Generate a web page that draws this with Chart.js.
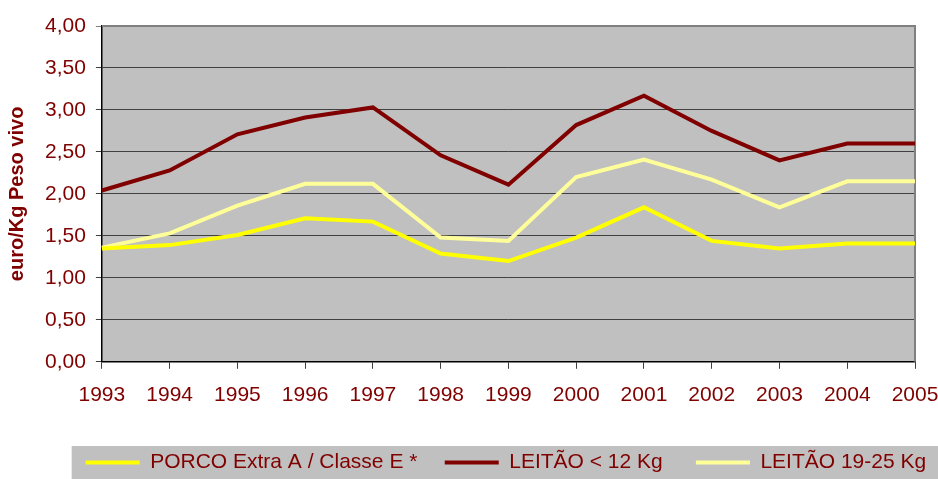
<!DOCTYPE html>
<html>
<head>
<meta charset="utf-8">
<script src="https://cdn.jsdelivr.net/npm/chart.js@4"></script>
<style>
  html, body { margin: 0; padding: 0; background: #fff; }
  #wrap { width: 938px; height: 479px; }
</style>
</head>
<body>
<div id="wrap"><canvas id="priceChart"></canvas></div>
<script>
// years on the x axis
const years = ['1993', '1994', '1995', '1996', '1997', '1998', '1999', '2000', '2001', '2002', '2003', '2004', '2005'];

// euro/Kg peso vivo
const porcoExtra = [1.35, 1.39, 1.51, 1.71, 1.67, 1.29, 1.20, 1.48, 1.84, 1.44, 1.35, 1.41, 1.41];
const leitaoMenos12 = [2.04, 2.28, 2.71, 2.91, 3.03, 2.46, 2.11, 2.82, 3.17, 2.75, 2.40, 2.60, 2.60];
const leitao1925 = [1.36, 1.53, 1.86, 2.12, 2.12, 1.48, 1.44, 2.20, 2.41, 2.17, 1.84, 2.15, 2.15];

const seriesNames = ['PORCO Extra A / Classe E *', 'LEITÃO < 12 Kg', 'LEITÃO 19-25 Kg'];
const seriesColors = ['#FFFF00', '#800000', '#FFFF99'];
// spacing after each legend entry
const legendGaps = ['    ', '     ', ' '];

const textColor = '#800000';
const fontFamily = '"Liberation Sans", Arial, sans-serif';

// grey plot area + legend band
const backdrop = {
  id: 'backdrop',
  beforeDraw(chart) {
    const { ctx, chartArea: a, legend } = chart;
    ctx.save();
    ctx.fillStyle = '#C0C0C0';
    ctx.fillRect(a.left, a.top, a.right - a.left, a.bottom - a.top);
    if (legend && legend.legendHitBoxes.length) {
      const hb = legend.legendHitBoxes[0];
      const x0 = hb.left - 14;
      const y0 = hb.top - 6;
      ctx.fillRect(x0, y0, chart.width - x0, chart.height - y0);
    }
    ctx.restore();
  },
  beforeDatasetsDraw(chart) {
    const { ctx, chartArea: a } = chart;
    ctx.save();
    ctx.strokeStyle = '#808080';
    ctx.lineWidth = 2;
    ctx.beginPath();
    ctx.moveTo(a.left, a.top);
    ctx.lineTo(a.right, a.top);
    ctx.lineTo(a.right, a.bottom);
    ctx.stroke();
    ctx.restore();
  }
};

new Chart(document.getElementById('priceChart'), {
  type: 'line',
  data: {
    labels: years,
    datasets: [porcoExtra, leitaoMenos12, leitao1925].map((d, i) => ({
      label: seriesNames[i],
      data: d,
      borderColor: seriesColors[i],
      backgroundColor: seriesColors[i],
      borderWidth: 4,
      pointRadius: 0,
      tension: 0
    }))
  },
  options: {
    responsive: true,
    maintainAspectRatio: false,
    animation: false,
    layout: { padding: { top: 26, right: 2, left: 0, bottom: -4 } },
    plugins: {
      tooltip: { enabled: false },
      legend: {
        position: 'bottom',
        align: 'end',
        labels: {
          color: textColor,
          font: { family: fontFamily, size: 21 },
          boxWidth: 54,
          boxHeight: 4,
          padding: 4,
          generateLabels(chart) {
            const items = Chart.defaults.plugins.legend.labels.generateLabels(chart);
            return items.map((it, i) => ({
              ...it,
              text: it.text + legendGaps[i],
              lineWidth: 0,
              fillStyle: seriesColors[i]
            }));
          }
        }
      }
    },
    scales: {
      x: {
        offset: false,
        grid: { drawOnChartArea: false, tickLength: 7, color: '#404040' },
        border: { color: '#000', width: 1.5 },
        ticks: { color: textColor, font: { family: fontFamily, size: 21 }, padding: 14, maxRotation: 0 },
        afterFit(scale) {
          scale.height += 26;
          scale.paddingRight = 23;
        }
      },
      y: {
        min: 0,
        max: 4,
        grid: {
          tickLength: 6,
          color: ctx => (ctx.tick && ctx.tick.value === 4 ? '#808080' : '#404040')
        },
        border: { color: '#000', width: 1.5 },
        ticks: {
          stepSize: 0.5,
          color: textColor,
          font: { family: fontFamily, size: 21 },
          padding: 10,
          callback: v => v.toFixed(2).replace('.', ',')
        },
        title: {
          display: true,
          text: 'euro/Kg Peso vivo',
          color: textColor,
          font: { family: fontFamily, size: 20, weight: 'bold' },
          padding: { top: 5, bottom: 6 }
        }
      }
    }
  },
  plugins: [backdrop]
});
</script>
</body>
</html>
